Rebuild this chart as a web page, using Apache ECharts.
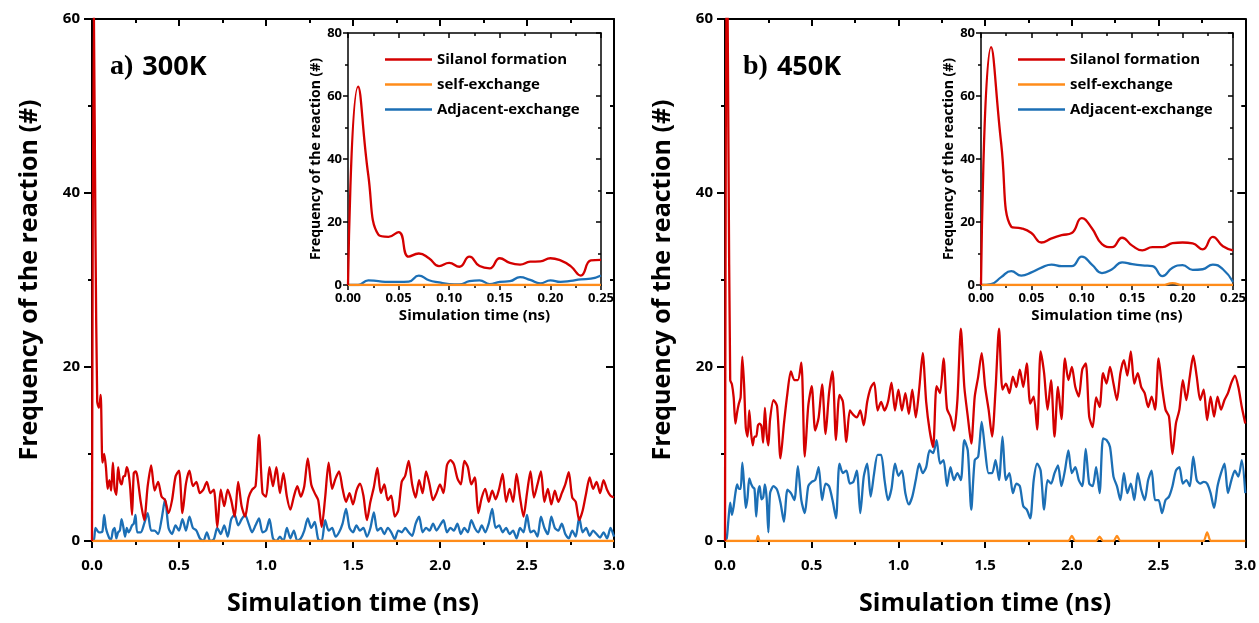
<!DOCTYPE html>
<html>
<head>
<meta charset="utf-8">
<title>Reaction frequency vs simulation time</title>
<script src="https://cdn.jsdelivr.net/npm/echarts@6/dist/echarts.min.js"></script>
<style>
  html, body { margin: 0; padding: 0; background: #fff; }
  #chart { width: 1259px; height: 623px; }
</style>
</head>
<body>
<div id="chart"></div>
<script>
// ---- Series names and colours ----
const seriesNames = ['Silanol formation', 'self-exchange', 'Adjacent-exchange'];
const seriesColors = { 'Silanol formation': '#d40000', 'self-exchange': '#ff8c1a', 'Adjacent-exchange': '#1c6fb5' };
const panelTags = ['a)', 'b)'];
const panelLabels = ['300K', '450K'];

// ---- Sampling of the time axis (ns) ----
const EARLY_STEP = 0.01;   // 0.00 .. 0.25 ns
const LATE_START = 0.26;   // 0.26 .. 3.00 ns
const LATE_STEP = 0.02;

// ---- 300 K : early window 0.00 - 0.25 ns ----
const silanolEarly300 = [0, 63, 35, 16, 15.3, 16.8, 9, 10, 8.5, 6, 7, 5.8, 9, 6, 5.3, 8.5, 7, 6.5, 7.4, 7.5, 8.5, 7.8, 6, 3, 7.8, 8];
const selfEarly300 = [0, 0, 0, 0, 0, 0, 0, 0, 0, 0, 0, 0, 0, 0, 0, 0, 0, 0, 0, 0, 0, 0, 0, 0, 0, 0];
const adjacentEarly300 = [0, 0, 1.5, 1.2, 1, 1, 1.1, 3, 1.5, 0.8, 0.3, 0.2, 1.2, 1.5, 0.3, 1, 1.2, 2.5, 1.6, 0.5, 1.5, 1, 1.3, 1.8, 2, 3];

// ---- 300 K : 0.26 - 3.00 ns ----
const silanolLate300 = [
  7.5, 4.5,
  2.4, 6.3, 8.7, 5.8, 6.8,
  5.1, 4.7, 3.2, 4.7, 7.4,
  8.1, 3.2, 6.6, 8.1, 6.3,
  6.8, 5.5, 5.9, 6.8, 5.5,
  5.9, 1.6, 5.9, 4.0, 5.9,
  4.7, 2.8, 6.8, 4.0, 2.8,
  5.0, 5.9, 6.3, 12.2, 5.5,
  5.1, 8.5, 6.3, 8.5, 5.5,
  7.8, 5.1, 3.6, 5.1, 6.3,
  5.1, 6.3, 9.5, 6.5, 5.5,
  4.7, 1.6, 5.0, 9.0, 6.0,
  7.2, 8.0, 6.0, 4.5, 5.5,
  4.2, 5.8, 6.6, 5.2, 2.4,
  4.5, 6.2, 8.4, 5.5, 6.5,
  4.7, 5.2, 2.8, 3.5, 6.8,
  7.5, 9.2, 6.5, 5.0, 7.0,
  5.5, 8.0, 6.5, 4.7, 5.5,
  6.5, 5.5, 8.7, 9.3, 8.8,
  7.2, 6.5, 9.2, 8.5, 6.5,
  7.3, 3.2, 5.0, 6.0, 4.5,
  5.8, 4.8, 6.0, 7.7, 4.5,
  6.0, 4.5, 7.7, 5.0, 2.8,
  5.5, 8.0, 5.0, 6.5, 8.0,
  4.5, 6.0, 4.2, 5.8, 4.5,
  5.5, 6.5, 7.9, 5.0, 4.5,
  2.4, 3.5, 5.5, 7.3, 6.0,
  6.8, 5.5, 7.0, 5.9, 5.2,
  5.0
];
const selfLate300 = [
  0, 0,
  0, 0, 0, 0, 0,  0, 0, 0, 0, 0,  0, 0, 0, 0, 0,  0, 0, 0, 0, 0,  0, 0, 0, 0, 0,
  0, 0, 0, 0, 0,  0, 0, 0, 0, 0,  0, 0, 0, 0, 0,  0, 0, 0, 0, 0,  0, 0, 0, 0, 0,
  0, 0, 0, 0, 0,  0, 0, 0, 0, 0,  0, 0, 0, 0, 0,  0, 0, 0, 0, 0,  0, 0, 0, 0, 0,
  0, 0, 0, 0, 0,  0, 0, 0, 0, 0,  0, 0, 0, 0, 0,  0, 0, 0, 0, 0,  0, 0, 0, 0, 0,
  0, 0, 0, 0, 0,  0, 0, 0, 0, 0,  0, 0, 0, 0, 0,  0, 0, 0, 0, 0,  0, 0, 0, 0, 0,
  0, 0, 0, 0, 0,  0, 0, 0, 0, 0,
  0
];
const adjacentLate300 = [
  1.0, 1.0,
  2.0, 3.2, 1.2, 1.2, 0.8,
  2.5, 4.8, 1.5, 0.8, 1.8,
  1.2, 2.5, 1.2, 2.8, 1.5,
  1.2, 0.3, 0.0, 1.0, 0.0,
  0.2, 1.5, 0.8, 1.8, 0.5,
  2.5, 3.0, 1.8, 2.5, 3.0,
  2.0, 1.0, 1.8, 2.6, 1.0,
  1.2, 2.5, 0.3, 0.0, 0.5,
  0.0, 1.5, 0.3, 1.2, 0.0,
  0.3, 1.2, 2.6, 1.5, 2.2,
  0.2, 0.0, 2.4, 1.2, 1.5,
  0.5, 1.0, 2.0, 3.7, 1.5,
  1.0, 1.8, 1.2, 1.5, 0.5,
  1.5, 3.3, 1.2, 1.5, 0.8,
  1.5, 1.0, 0.2, 1.2, 1.0,
  1.5, 1.0, 0.6, 2.0, 2.8,
  1.0, 1.5, 1.2, 2.0, 1.2,
  1.8, 2.4, 1.0, 1.5, 1.2,
  2.0, 0.8, 1.5, 1.0, 2.4,
  1.5, 1.0, 1.8, 1.0, 2.0,
  3.7, 1.5, 1.8, 1.0, 1.5,
  0.8, 1.2, 0.3, 1.5, 1.0,
  3.0, 1.0, 1.2, 0.5, 2.8,
  1.5, 0.8, 2.8, 1.5, 1.2,
  2.0, 0.8, 0.3, 1.2, 0.5,
  2.7, 1.0, 1.5, 0.6, 1.2,
  0.8, 0.4, 1.0, 0.3, 1.5,
  0.5
];

// ---- 450 K : early window 0.00 - 0.25 ns ----
const silanolEarly450 = [0, 75.5, 45, 18.5, 18, 16.5, 13.5, 14.8, 15.8, 16.5, 21.2, 18, 13, 12, 15, 12.5, 11, 12, 12, 13.3, 13.5, 13.2, 11.3, 15.3, 12.3, 11];
const selfEarly450 = [0, 0, 0, 0, 0, 0, 0, 0, 0, 0, 0, 0, 0, 0, 0, 0, 0, 0, 0, 0.6, 0, 0, 0, 0, 0, 0];
const adjacentEarly450 = [0, 0.3, 2.5, 4.4, 3, 4, 5.5, 6.5, 6, 6, 9, 6.5, 3.8, 5, 7.2, 6.6, 6.2, 6, 2.8, 5.5, 6.3, 4.8, 5, 6.5, 5, 1];

// ---- 450 K : 0.26 - 3.00 ns ----
const silanolLate450 = [
  14.0, 16.2,
  15.5, 9.5, 13.5, 17.0, 19.5,
  18.5, 18.5, 20.5, 9.7, 15.5,
  17.8, 12.7, 14.2, 18.0, 12.3,
  17.0, 19.5, 11.6, 16.8, 16.0,
  11.4, 15.0, 14.5, 14.2, 15.0,
  13.3, 16.0, 17.6, 18.2, 15.0,
  16.0, 15.0, 16.0, 18.2, 15.0,
  17.4, 15.0, 17.0, 14.6, 17.4,
  14.2, 17.5, 21.6, 16.0, 12.7,
  10.8, 17.8, 17.0, 21.0, 15.2,
  14.3, 12.7, 16.2, 24.4, 17.7,
  14.3, 11.2, 16.6, 18.9, 21.6,
  17.7, 15.1, 12.0, 17.4, 24.4,
  17.4, 18.1, 17.0, 18.9, 17.7,
  19.7, 17.7, 20.4, 15.8, 16.6,
  12.8, 21.8, 19.3, 15.1, 18.5,
  12.0, 17.7, 14.0, 21.0, 18.5,
  20.0, 17.7, 16.6, 19.7, 20.4,
  14.3, 13.1, 16.5, 15.4, 19.3,
  18.1, 20.0, 18.1, 16.2, 19.3,
  20.8, 19.0, 21.8, 18.1, 19.3,
  17.7, 17.0, 15.4, 16.6, 15.1,
  21.0, 17.7, 15.1, 14.3, 10.0,
  13.5, 15.1, 18.5, 16.2, 18.9,
  21.3, 18.9, 16.2, 17.4, 13.9,
  16.6, 14.3, 16.6, 15.1, 16.2,
  17.0, 18.2, 19.0, 17.7, 15.4,
  13.5
];
const selfLate450 = [
  0, 0,
  0, 0, 0, 0, 0,  0, 0, 0, 0, 0,  0, 0, 0, 0, 0,  0, 0, 0, 0, 0,  0, 0, 0, 0, 0,
  0, 0, 0, 0, 0,  0, 0, 0, 0, 0,  0, 0, 0, 0, 0,  0, 0, 0, 0, 0,  0, 0, 0, 0, 0,
  0, 0, 0, 0, 0,  0, 0, 0, 0, 0,  0, 0, 0, 0, 0,  0, 0, 0, 0, 0,  0, 0, 0, 0, 0,
  0, 0, 0, 0, 0,  0, 0, 0, 0, 0,
  0.6, 0, 0, 0, 0,
  0, 0, 0, 0.5, 0,
  0, 0, 0, 0.6, 0,
  0, 0, 0, 0, 0,  0, 0, 0, 0, 0,  0, 0, 0, 0, 0,  0, 0, 0, 0, 0,
  0, 0, 0, 0, 1.0,
  0, 0, 0, 0, 0,  0, 0, 0, 0, 0,
  0
];
const adjacentLate450 = [
  5.5, 6.3,
  5.9, 4.4, 2.2, 5.9, 5.5,
  4.7, 8.6, 4.7, 3.2, 6.3,
  6.8, 7.0, 8.5, 4.7, 6.6,
  6.3, 4.7, 2.6, 8.9, 7.8,
  8.1, 6.6, 6.8, 8.1, 3.2,
  7.4, 8.9, 5.1, 7.8, 9.9,
  9.9, 7.0, 4.7, 6.0, 8.9,
  7.5, 8.1, 5.5, 4.2, 5.1,
  7.0, 8.9, 7.8, 8.5, 10.4,
  10.1, 11.6, 8.9, 9.3, 6.3,
  8.5, 7.0, 7.8, 7.0, 11.6,
  10.4, 3.6, 9.3, 9.7, 13.7,
  10.4, 7.8, 7.8, 9.3, 7.0,
  12.0, 7.0, 7.8, 5.5, 6.6,
  6.3, 4.0, 3.6, 2.6, 7.0,
  8.9, 8.1, 3.6, 7.0, 6.6,
  7.8, 8.7, 6.3, 8.1, 10.4,
  7.8, 8.5, 7.0, 6.3, 10.6,
  6.6, 6.3, 8.5, 5.5, 11.8,
  11.6, 10.8, 7.4, 6.3, 4.7,
  7.8, 5.5, 6.6, 4.7, 7.8,
  5.9, 4.7, 7.0, 8.1, 4.7,
  4.7, 3.2, 4.7, 5.1, 6.3,
  8.1, 8.5, 6.6, 7.0, 6.3,
  9.7, 7.0, 6.6, 6.8, 6.6,
  5.5, 3.8, 6.3, 7.8, 8.9,
  5.5, 7.0, 8.1, 7.4, 9.3,
  5.5
];

// ---- Helpers turning the arrays into [time, value] pairs ----
function earlyPairs(values) {
  return values.map((v, i) => [+(i * EARLY_STEP).toFixed(2), v]);
}
function fullPairs(early, late) {
  const out = earlyPairs(early);
  late.forEach((v, i) => out.push([+(LATE_START + i * LATE_STEP).toFixed(2), v]));
  return out;
}

const FONT = '"Open Sans", "DejaVu Sans", sans-serif';
const BLACK = '#000';

// ---- Axis builders: a labelled pair (bottom/left) plus a mirrored pair (top/right) ----
function xAxes(grid, max, interval, decimals, big) {
  const tick = big ? 7 : 5, minor = big ? 4 : 3, lw = big ? 2 : 1.5;
  const base = {
    type: 'value', gridIndex: grid, min: 0, max: max, interval: interval,
    splitLine: { show: false }, minorSplitLine: { show: false },
    axisLine: { show: true, onZero: false, lineStyle: { color: BLACK, width: lw } }
  };
  return [
    Object.assign({}, base, {
      position: 'bottom',
      axisTick: { show: true, inside: false, length: tick, lineStyle: { color: BLACK, width: lw } },
      minorTick: { show: true, splitNumber: 2, length: minor, lineStyle: { color: BLACK, width: lw } },
      axisLabel: {
        formatter: v => v.toFixed(decimals), color: BLACK, fontFamily: FONT, fontWeight: 'bold',
        fontSize: big ? 15 : 13, margin: big ? 17 : 7
      },
      name: 'Simulation time (ns)', nameLocation: 'middle', nameGap: big ? 50 : 23,
      nameTextStyle: { color: BLACK, fontFamily: FONT, fontWeight: 'bold', fontSize: big ? 25 : 15 }
    }),
    Object.assign({}, base, {
      position: 'top',
      axisTick: { show: true, inside: true, length: tick, lineStyle: { color: BLACK, width: lw } },
      minorTick: { show: true, splitNumber: 2, length: minor, lineStyle: { color: BLACK, width: lw } },
      axisLabel: { show: false }
    })
  ];
}
function yAxes(grid, max, interval, big) {
  const tick = big ? 8 : 5, minor = big ? 4 : 3, lw = big ? 2 : 1.5;
  const base = {
    type: 'value', gridIndex: grid, min: 0, max: max, interval: interval,
    splitLine: { show: false }, minorSplitLine: { show: false },
    axisLine: { show: true, onZero: false, lineStyle: { color: BLACK, width: lw } }
  };
  return [
    Object.assign({}, base, {
      position: 'left',
      axisTick: { show: true, inside: false, length: tick, lineStyle: { color: BLACK, width: lw } },
      minorTick: { show: true, splitNumber: 2, length: minor, lineStyle: { color: BLACK, width: lw } },
      axisLabel: { color: BLACK, fontFamily: FONT, fontWeight: 'bold', fontSize: big ? 15 : 13, margin: big ? 12 : 6 },
      name: 'Frequency of the reaction (#)', nameLocation: 'middle', nameGap: big ? 50 : 22,
      nameTextStyle: { color: BLACK, fontFamily: FONT, fontWeight: 'bold', fontSize: big ? 25 : 14 }
    }),
    Object.assign({}, base, {
      position: 'right',
      axisTick: { show: true, inside: true, length: tick, lineStyle: { color: BLACK, width: lw } },
      minorTick: { show: true, splitNumber: 2, length: minor, lineStyle: { color: BLACK, width: lw } },
      axisLabel: { show: false }
    })
  ];
}

// ---- Panels: two main plots and their early-time insets ----
const panels = [
  { silanol: fullPairs(silanolEarly300, silanolLate300), self: fullPairs(selfEarly300, selfLate300), adjacent: fullPairs(adjacentEarly300, adjacentLate300) },
  { silanol: fullPairs(silanolEarly450, silanolLate450), self: fullPairs(selfEarly450, selfLate450), adjacent: fullPairs(adjacentEarly450, adjacentLate450) },
  { silanol: earlyPairs(silanolEarly300), self: earlyPairs(selfEarly300), adjacent: earlyPairs(adjacentEarly300) },
  { silanol: earlyPairs(silanolEarly450), self: earlyPairs(selfEarly450), adjacent: earlyPairs(adjacentEarly450) }
];

const grids = [
  { left: 92, top: 19, width: 522, height: 522 },
  { left: 725, top: 19, width: 521, height: 522 },
  { left: 348, top: 33, width: 253, height: 252 },
  { left: 981, top: 33, width: 252, height: 252 }
];

let xAxis = [], yAxis = [], series = [];
panels.forEach((p, g) => {
  const big = g < 2;
  xAxis = xAxis.concat(big ? xAxes(g, 3, 0.5, 1, true) : xAxes(g, 0.25, 0.05, 2, false));
  yAxis = yAxis.concat(big ? yAxes(g, 60, 20, true) : yAxes(g, 80, 20, false));
  const drawOrder = [['Adjacent-exchange', p.adjacent], ['self-exchange', p.self], ['Silanol formation', p.silanol]];
  drawOrder.forEach(([name, data]) => {
    series.push({
      type: 'line', name: name, data: data,
      xAxisIndex: g * 2, yAxisIndex: g * 2,
      showSymbol: false, symbol: 'none',
      smooth: big ? 0.25 : 0.5,
      clip: true,
      lineStyle: { color: seriesColors[name], width: 2.3 },
      itemStyle: { color: seriesColors[name] },
      emphasis: { disabled: true }
    });
  });
});

// Legend keys are short thick bars, one row every 25 px
const legendBase = {
  orient: 'vertical', data: seriesNames, icon: 'rect', itemWidth: 47, itemHeight: 2.5, itemGap: 0,
  selectedMode: false, padding: 0,
  textStyle: { color: BLACK, fontFamily: FONT, fontWeight: 'bold', fontSize: 15, lineHeight: 25 }
};

function panelTitle(i, left) {
  return {
    type: 'text', left: left, top: 53,
    style: {
      text: '{s|' + panelTags[i] + '}{b|' + panelLabels[i] + '}',
      rich: {
        s: { fontFamily: '"Liberation Serif", serif', fontWeight: 'bold', fontSize: 28, fill: BLACK },
        b: { fontFamily: FONT, fontWeight: 'bold', fontSize: 27, fill: BLACK, padding: [0, 0, 0, 9] }
      }
    }
  };
}

const chart = echarts.init(document.getElementById('chart'), null, { renderer: 'canvas' });
chart.setOption({
  animation: false,
  backgroundColor: '#fff',
  grid: grids,
  xAxis: xAxis,
  yAxis: yAxis,
  series: series,
  legend: [
    Object.assign({}, legendBase, { left: 385, top: 47 }),
    Object.assign({}, legendBase, { left: 1018, top: 47 })
  ],
  graphic: [panelTitle(0, 110), panelTitle(1, 743)]
});
</script>
</body>
</html>
